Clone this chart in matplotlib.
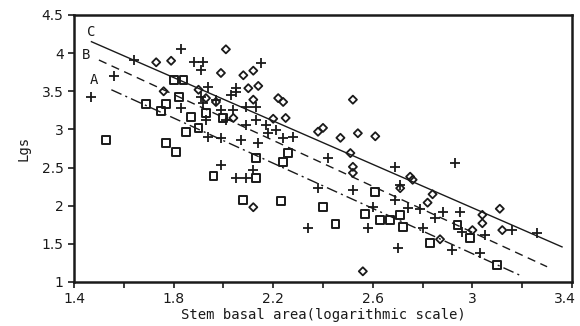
import matplotlib
matplotlib.use('Agg')
import matplotlib.pyplot as plt
import matplotlib.transforms as mtransforms
from matplotlib.ticker import FixedLocator, MultipleLocator, FormatStrFormatter

# data: (stem basal area log, Lgs)
sq_x = [1.53, 1.77, 1.81, 1.80, 1.84, 1.82, 1.69, 1.77, 1.75, 1.85, 1.90, 1.87,
        1.93, 2.00, 1.96, 2.13, 2.26, 2.24, 2.13, 2.08, 2.23, 2.40, 2.45, 2.61,
        2.57, 2.63, 2.67, 2.71, 2.72, 2.83, 2.94, 2.99, 3.10]
sq_y = [2.86, 2.82, 2.70, 3.65, 3.65, 3.42, 3.33, 3.33, 3.24, 2.97, 3.02, 3.16,
        3.22, 3.15, 2.39, 2.63, 2.69, 2.57, 2.36, 2.08, 2.06, 1.98, 1.76, 2.18,
        1.89, 1.81, 1.81, 1.88, 1.72, 1.51, 1.75, 1.58, 1.22]

dia_x = [1.73, 1.79, 1.76, 2.01, 1.99, 2.08, 2.12, 2.10, 2.14, 2.22, 2.24, 2.20,
         2.25, 2.52, 2.47, 2.54, 2.61, 2.38, 2.40, 2.51, 2.52, 2.52, 2.75, 2.76,
         2.71, 2.56, 2.84, 2.82, 3.04, 3.11, 3.04, 3.00, 3.12, 2.87, 2.12, 1.93,
         1.90, 1.97, 2.04, 2.12]
dia_y = [3.88, 3.90, 3.50, 4.05, 3.74, 3.71, 3.77, 3.54, 3.57, 3.41, 3.36, 3.14,
         3.15, 3.39, 2.89, 2.95, 2.91, 2.97, 3.02, 2.69, 2.51, 2.43, 2.38, 2.34,
         2.23, 1.14, 2.15, 2.04, 1.88, 1.96, 1.77, 1.68, 1.68, 1.56, 1.98, 3.41,
         3.52, 3.36, 3.15, 3.39]

plus_x = [1.47, 1.56, 1.64, 1.83, 1.88, 1.92, 1.91, 2.15, 2.05, 2.05, 1.83, 1.94,
          1.91, 1.92, 1.97, 1.99, 2.04, 2.09, 2.13, 1.93, 2.01, 2.13, 1.94, 1.99,
          2.14, 2.28, 1.99, 2.05, 2.09, 2.12, 2.34, 2.58, 2.70, 2.38, 2.52, 2.69,
          2.93, 2.69, 2.60, 2.74, 2.80, 2.85, 2.88, 2.95, 2.92, 3.03, 3.05, 3.16,
          3.26, 2.96, 2.79, 2.71, 2.42, 2.03, 2.09, 2.17, 2.07, 2.21, 2.18, 2.24]
plus_y = [3.43, 3.70, 3.91, 4.05, 3.88, 3.88, 3.78, 3.87, 3.54, 3.49, 3.28, 3.56,
          3.42, 3.35, 3.39, 3.25, 3.25, 3.29, 3.29, 3.12, 3.12, 3.12, 2.90, 2.89,
          2.82, 2.90, 2.53, 2.36, 2.36, 2.47, 1.71, 1.71, 1.45, 2.23, 2.21, 2.51,
          2.56, 2.07, 1.98, 1.97, 1.71, 1.84, 1.92, 1.92, 1.42, 1.38, 1.62, 1.68,
          1.64, 1.66, 1.96, 2.27, 2.63, 3.45, 3.06, 3.06, 2.86, 2.99, 2.95, 2.89]

# regression lines (start, end)
line_names = ['C', 'B', 'A']
line_x = [(1.47, 3.36), (1.50, 3.30), (1.55, 3.19)]
line_y = [(4.15, 1.46), (3.91, 1.20), (3.52, 1.09)]
label_pos = [(1.47, 4.28), (1.45, 3.97), (1.48, 3.65)]

x_labels = [1.4, 1.8, 2.2, 2.6, 3.0, 3.4]

ink = '#1a1a1a'
fig = plt.figure(figsize=(5.8, 3.26), dpi=100)
ax = fig.add_axes([0.1276, 0.135, 0.8586, 0.819])

styles = ['-', (0, (6, 4)), (0, (8, 3, 1.5, 3))]
for (x0, x1), (y0, y1), ls in zip(line_x, line_y, styles):
    ax.plot([x0, x1], [y0, y1], color=ink, lw=1.0, linestyle=ls)
for name, (lx, ly) in zip(line_names, label_pos):
    ax.text(lx, ly, name, family='DejaVu Sans Mono', fontsize=10, color=ink,
            ha='center', va='center')

ax.scatter(sq_x, sq_y, marker='s', s=32, facecolors='none', edgecolors=ink, linewidths=1.4)
ax.scatter(dia_x, dia_y, marker='D', s=17, facecolors='none', edgecolors=ink, linewidths=1.3)
ax.scatter(plus_x, plus_y, marker='+', s=55, color=ink, linewidths=1.3)

ax.set_xlim(1.4, 3.4)
ax.set_ylim(1, 4.5)
ax.xaxis.set_major_locator(FixedLocator(x_labels))
ax.xaxis.set_minor_locator(MultipleLocator(0.2))
ax.yaxis.set_major_locator(MultipleLocator(0.5))
ax.xaxis.set_major_formatter(FormatStrFormatter('%g'))
ax.yaxis.set_major_formatter(FormatStrFormatter('%g'))
ax.tick_params(which='both', direction='out', length=4, width=1.2, colors=ink, labelsize=10)
for sp in ax.spines.values():
    sp.set_linewidth(1.8)
    sp.set_color(ink)

# last x label sits on the right edge; nudge it inside the canvas
fig.canvas.draw()
last = ax.get_xticklabels()[-1]
last.set_transform(last.get_transform() + mtransforms.ScaledTranslation(-0.07, 0, fig.dpi_scale_trans))

ax.set_xlabel('Stem basal area(logarithmic scale)', family='DejaVu Sans Mono',
              fontsize=10, color=ink, labelpad=1)
ax.set_ylabel('Lgs', family='DejaVu Sans Mono', fontsize=10, color=ink, labelpad=8)

fig.savefig('out.png', dpi=100)
